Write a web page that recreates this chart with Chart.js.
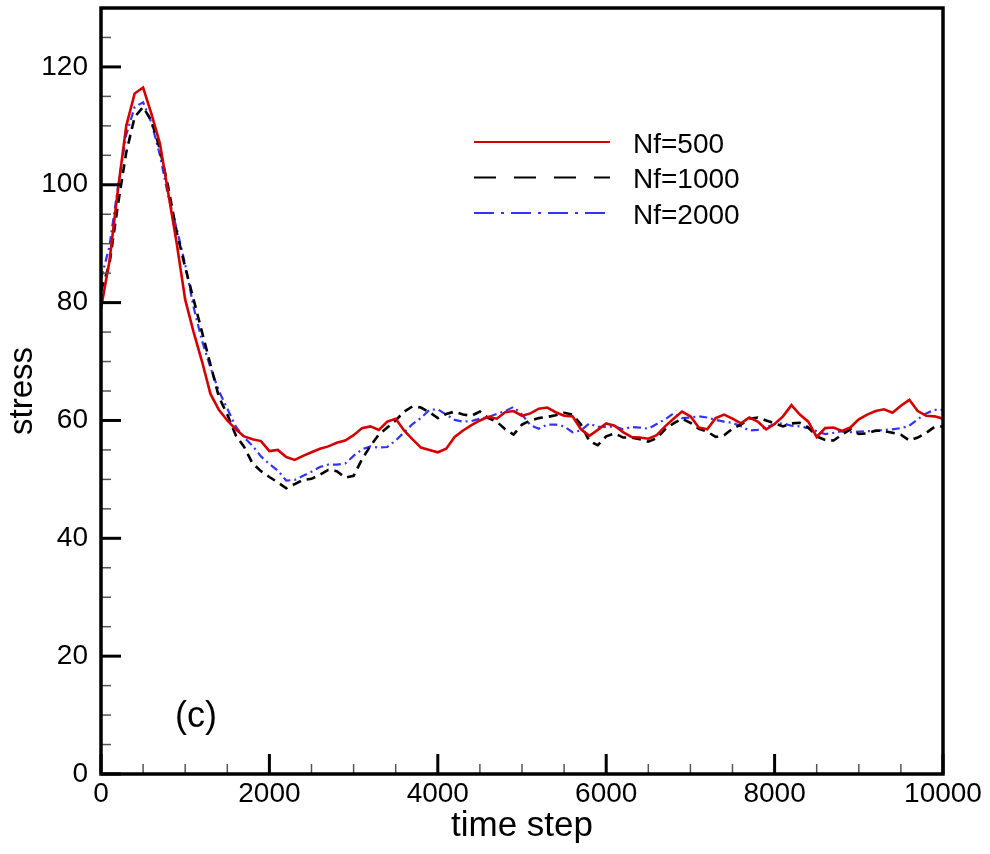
<!DOCTYPE html>
<html>
<head>
<meta charset="utf-8">
<title>stress vs time step</title>
<script src="https://cdn.jsdelivr.net/npm/chart.js@4.4.1/dist/chart.umd.min.js"></script>
<style>
  html, body { margin: 0; padding: 0; background: #fff; }
  #wrap { width: 990px; height: 854px; }
</style>
</head>
<body>
<div id="wrap"><canvas id="stressChart" width="990" height="854"></canvas></div>
<script>
// time step axis (every 100 steps)
const timeSteps = [
    0, 100, 200, 300, 400, 500, 600, 700, 800, 900,
    1000, 1100, 1200, 1300, 1400, 1500, 1600, 1700, 1800, 1900,
    2000, 2100, 2200, 2300, 2400, 2500, 2600, 2700, 2800, 2900,
    3000, 3100, 3200, 3300, 3400, 3500, 3600, 3700, 3800, 3900,
    4000, 4100, 4200, 4300, 4400, 4500, 4600, 4700, 4800, 4900,
    5000, 5100, 5200, 5300, 5400, 5500, 5600, 5700, 5800, 5900,
    6000, 6100, 6200, 6300, 6400, 6500, 6600, 6700, 6800, 6900,
    7000, 7100, 7200, 7300, 7400, 7500, 7600, 7700, 7800, 7900,
    8000, 8100, 8200, 8300, 8400, 8500, 8600, 8700, 8800, 8900,
    9000, 9100, 9200, 9300, 9400, 9500, 9600, 9700, 9800, 9900,
    10000
];

// stress, Nf=500 (red solid)
const nf500 = [
    79, 87, 99, 110, 115.5, 116.5, 112, 107, 98.5, 90,
    80.5, 75, 70, 64.5, 61.8, 60, 58.5, 57.3, 56.8, 56.5,
    54.8, 55, 53.8, 53.3, 54, 54.6, 55.2, 55.6, 56.2, 56.6,
    57.5, 58.7, 59, 58.4, 59.8, 60.3, 58.3, 56.8, 55.4, 55,
    54.6, 55.2, 57.2, 58.3, 59.2, 60, 60.6, 60.3, 61.4, 61.6,
    60.8, 61.2, 62, 62.2, 61.4, 60.8, 60.7, 58.5, 57.4, 58.4,
    59.5, 59.1, 58, 57.2, 57.1, 56.9, 57.5, 59, 60.3, 61.5,
    60.7, 58.8, 58.5, 60.4, 61, 60.3, 59.5, 60.5, 59.8, 58.5,
    59.4, 60.7, 62.6, 61, 59.8, 57.2, 58.7, 58.8, 58.2, 58.8,
    60.2, 61, 61.6, 61.9, 61.3, 62.5, 63.5, 61.6, 60.8, 60.7,
    60.3
];

// stress, Nf=1000 (black dashed)
const nf1000 = [
    82, 86.5, 96.5, 105.5, 111.5, 113.2, 110.8, 106, 99.5, 91.9,
    86, 80.5, 75, 69.5, 64, 61, 57.5, 55.5, 52.7, 51.4,
    50.4, 49.5, 48.5, 49.2, 49.9, 50.1, 50.8, 51.6, 51.4, 50.3,
    50.6, 53.4, 55.7, 57.6, 58.8, 60, 61.5, 62.4, 62.2, 61.4,
    60.4, 61.1, 61.5, 61, 60.8, 61.5, 60.4, 59.8, 58.5, 57.6,
    59.3, 60, 60.4, 60.6, 60.9, 61.3, 61, 59.3, 56.5, 55.8,
    57.3, 57.8, 57.1, 57.1, 56.8, 56.4, 57, 58.5, 59.5, 60.3,
    59.6, 58.6, 58.1, 57.2, 57.5, 58.6, 59.3, 60.3, 60.5, 60,
    59.5, 59, 59.5, 59.6, 58.8, 57.3, 56.7, 56.6, 57.6, 58.5,
    57.7, 57.8, 58.3, 58.2, 57.9, 57.6, 56.6, 57.1, 57.9, 58.9,
    59
];

// stress, Nf=2000 (blue dash-dot)
const nf2000 = [
    84, 89.5, 99.5, 108.5, 113.2, 114, 110.5, 105, 98, 92.5,
    86.5, 79.2, 73.5, 69, 65, 62, 59, 57.1, 55.7, 53.9,
    52.6, 51.5, 49.8, 49.9, 50.6, 51.3, 52.1, 52.5, 52.5, 52.7,
    54, 55.1, 55.6, 55.4, 55.5, 56.6, 58, 59.4, 60.4, 61.8,
    61.9, 61, 60.1, 59.8, 59.9, 60.3, 60.6, 61.1, 61.6, 62.3,
    61, 59.2, 58.6, 59.3, 59.3, 59, 58, 58.3, 59.5, 58.9,
    58.9, 59, 58.5, 58.9, 58.8, 58.6, 59.4, 60.2, 61.2, 60.4,
    60.5, 60.7, 60.5, 60.1, 59.8, 59.6, 59, 58.3, 58.4, 58.8,
    59.4, 59.5, 59.1, 59, 58.7, 58.2, 57.7, 57.9, 58.2, 58,
    58.1, 58.2, 58.2, 58.4, 58.5, 58.7, 59.1, 60.2, 61.2, 61.8,
    61.8
];

const seriesNames = ['Nf=500', 'Nf=1000', 'Nf=2000'];
const xLabelTicks = [0, 2000, 4000, 6000, 8000, 10000];
const yLabelTicks = [0, 20, 40, 60, 80, 100, 120];

const FONT = "'Liberation Sans', Arial, Helvetica, sans-serif";

function toPoints(values) {
    return timeSteps.map((t, i) => ({ x: t, y: values[i] }));
}

// frame + inward ticks, drawn from the scales
const frameTicks = {
    id: 'frameTicks',
    afterDraw(chart) {
        const { ctx, chartArea: a, scales } = chart;
        ctx.save();
        ctx.lineCap = 'butt';

        scales.x.ticks.forEach(tk => {
            const px = scales.x.getPixelForValue(tk.value);
            const major = xLabelTicks.includes(tk.value);
            ctx.lineWidth = major ? 3 : 1.5;
            ctx.strokeStyle = major ? '#000' : '#555';
            ctx.beginPath();
            ctx.moveTo(px, a.bottom);
            ctx.lineTo(px, a.bottom - (major ? 20 : 10));
            ctx.stroke();
        });
        scales.y.ticks.forEach(tk => {
            const py = scales.y.getPixelForValue(tk.value);
            const major = yLabelTicks.includes(tk.value);
            ctx.lineWidth = major ? 3 : 1.5;
            ctx.strokeStyle = major ? '#000' : '#555';
            ctx.beginPath();
            ctx.moveTo(a.left, py);
            ctx.lineTo(a.left + (major ? 20 : 10), py);
            ctx.stroke();
        });

        ctx.strokeStyle = '#000';
        ctx.lineWidth = 3.5;
        ctx.strokeRect(a.left, a.top, a.right - a.left, a.bottom - a.top);
        ctx.restore();
    }
};

// legend in the upper middle + panel tag
const inlineLegend = {
    id: 'inlineLegend',
    afterDraw(chart) {
        const { ctx } = chart;
        ctx.save();
        chart.data.datasets.forEach((ds, i) => {
            const y = 142 + i * 35.5;
            ctx.strokeStyle = ds.borderColor;
            ctx.lineWidth = 1.8;
            ctx.setLineDash(ds.legendDash);
            ctx.beginPath();
            ctx.moveTo(474, y);
            ctx.lineTo(610, y);
            ctx.stroke();
            ctx.setLineDash([]);
            ctx.fillStyle = '#000';
            ctx.font = '28px ' + FONT;
            ctx.textBaseline = 'middle';
            ctx.textAlign = 'left';
            ctx.fillText(ds.label, 633, y + 3);
        });
        ctx.font = '36px ' + FONT;
        ctx.textAlign = 'center';
        ctx.textBaseline = 'alphabetic';
        ctx.fillText('(c)', 196, 727);
        ctx.restore();
    }
};

new Chart(document.getElementById('stressChart'), {
    type: 'line',
    data: {
        datasets: [{
            label: seriesNames[0],
            data: toPoints(nf500),
            borderColor: '#d40000',
            borderWidth: 2.6,
            legendDash: [],
            pointRadius: 0,
            tension: 0
        }, {
            label: seriesNames[1],
            data: toPoints(nf1000),
            borderColor: '#000000',
            borderWidth: 2.6,
            borderDash: [9, 6],
            legendDash: [22, 18],
            pointRadius: 0,
            tension: 0
        }, {
            label: seriesNames[2],
            data: toPoints(nf2000),
            borderColor: '#3333ff',
            borderWidth: 2.2,
            borderDash: [8, 4, 2, 4],
            legendDash: [20, 7, 3, 7],
            pointRadius: 0,
            tension: 0
        }]
    },
    options: {
        responsive: false,
        animation: false,
        devicePixelRatio: 1,
        layout: { padding: { top: 8, right: 47, left: 0, bottom: 0 } },
        plugins: {
            legend: { display: false },
            tooltip: { enabled: false }
        },
        scales: {
            x: {
                type: 'linear',
                min: 0,
                max: 10000,
                afterFit: s => {
                    s.height = 80;
                    s.paddingLeft = 0;
                    s.paddingRight = 0;
                },
                grid: { display: false, drawTicks: false },
                border: { display: false },
                ticks: {
                    stepSize: 500,
                    autoSkip: false,
                    maxRotation: 0,
                    padding: 3,
                    color: '#000',
                    font: { family: FONT, size: 28 },
                    callback: v => xLabelTicks.includes(v) ? String(v) : ''
                },
                title: {
                    display: true,
                    text: 'time step',
                    color: '#000',
                    font: { family: FONT, size: 35 },
                    padding: { top: 0, bottom: 7 }
                }
            },
            y: {
                min: 0,
                max: 130,
                afterFit: s => {
                    s.width = 101;
                    s.paddingTop = 0;
                    s.paddingBottom = 0;
                },
                grid: { display: false, drawTicks: false },
                border: { display: false },
                ticks: {
                    stepSize: 5,
                    autoSkip: false,
                    padding: 13,
                    color: '#000',
                    font: { family: FONT, size: 28 },
                    callback: v => yLabelTicks.includes(v) ? String(v) : ''
                },
                title: {
                    display: true,
                    text: 'stress',
                    color: '#000',
                    font: { family: FONT, size: 33 },
                    padding: { top: 3, bottom: 0 }
                }
            }
        }
    },
    plugins: [frameTicks, inlineLegend]
});
</script>
</body>
</html>
